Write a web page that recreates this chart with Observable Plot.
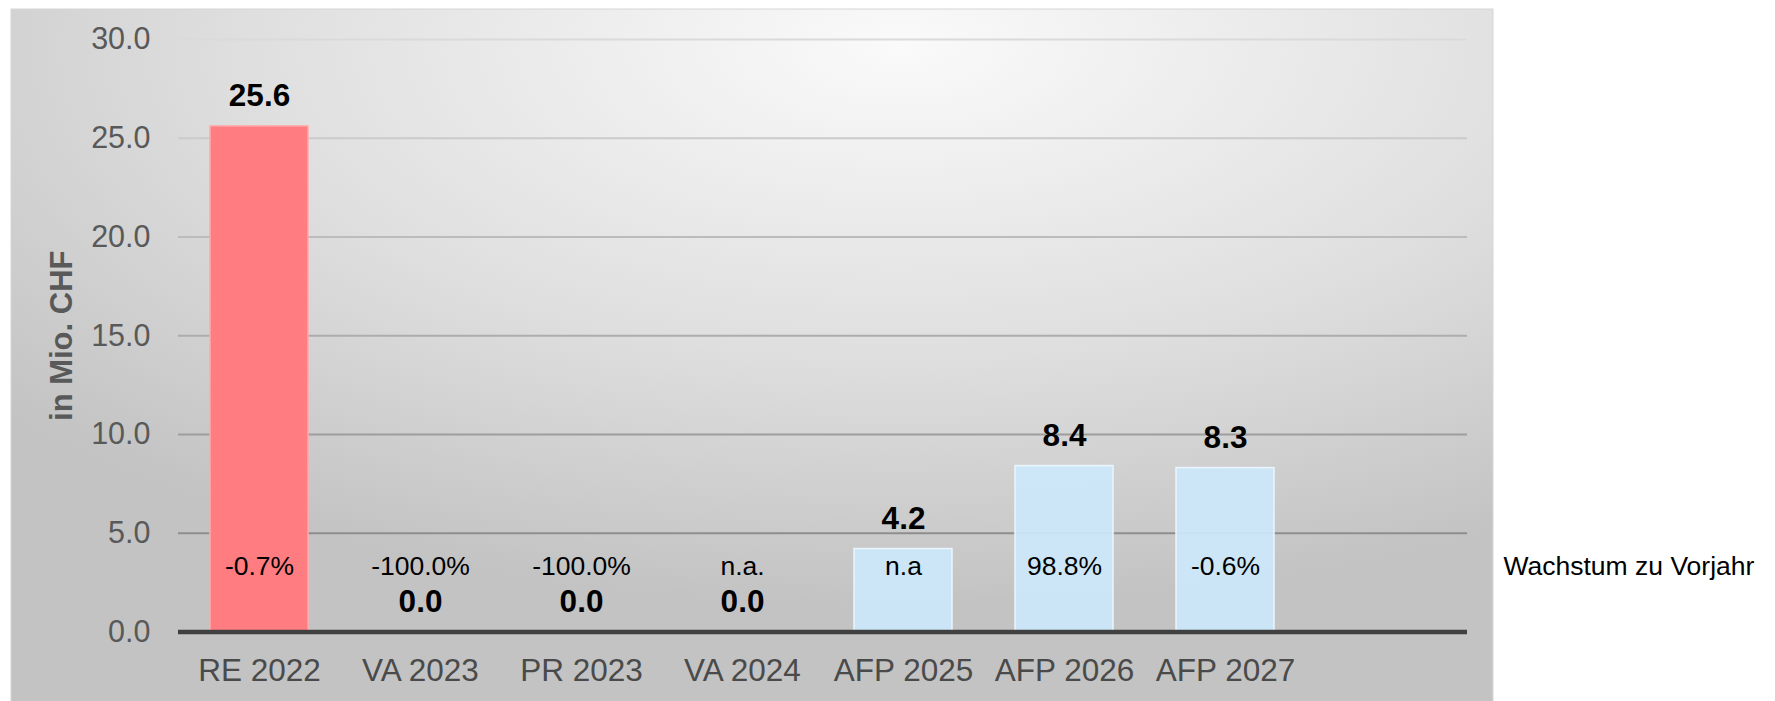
<!DOCTYPE html>
<html><head><meta charset="utf-8">
<script src="https://cdn.jsdelivr.net/npm/d3@7"></script>
<script src="https://cdn.jsdelivr.net/npm/@observablehq/plot@0.6"></script>
<style>html,body{margin:0;padding:0;background:#fff;} svg{display:block}</style>
</head><body><div id="chart"></div>
<script>
const categories = ["RE 2022", "VA 2023", "PR 2023", "VA 2024", "AFP 2025", "AFP 2026", "AFP 2027"];
const values = [25.6, 0.0, 0.0, 0.0, 4.2, 8.4, 8.3];
const growthLabels = ["-0.7%", "-100.0%", "-100.0%", "n.a.", "n.a", "98.8%", "-0.6%"];
const yTicks = [0, 5, 10, 15, 20, 25, 30];
const yLabel = "in Mio. CHF";
const seriesLabel = "Wachstum zu Vorjahr";

const data = categories.map((c, i) => ({cat: c, value: values[i], growth: growthLabels[i]}));
const FONT = "'Liberation Sans', Arial, Helvetica, sans-serif";
const PINK = "#ff7c80", BLUE = "#cce8fb";
const GROWTH_Y = 2.9;
const W = 1775, H = 701;

function background() {
  const g = d3.create("svg:g");
  const defs = g.append("defs");
  const rg = defs.append("radialGradient").attr("id", "bgGrad")
    .attr("cx", 0.6).attr("cy", 0.05).attr("r", 0.8);
  rg.append("stop").attr("offset", 0).attr("stop-color", "#fafafa");
  rg.append("stop").attr("offset", 0.55).attr("stop-color", "#dfdfdf");
  rg.append("stop").attr("offset", 1).attr("stop-color", "#c3c3c3");
  const lg = defs.append("linearGradient").attr("id", "gridGrad")
    .attr("gradientUnits", "userSpaceOnUse")
    .attr("x1", 0).attr("x2", 0).attr("y1", 39).attr("y2", 560);
  lg.append("stop").attr("offset", 0).attr("stop-color", "#dadada");
  lg.append("stop").attr("offset", 1).attr("stop-color", "#8a8a8a");
  g.append("rect").attr("x", 11).attr("y", 9).attr("width", 1482).attr("height", 700)
    .attr("fill", "url(#bgGrad)").attr("stroke", "#d6d6d6").attr("stroke-width", 1);
  return g.node();
}

const chart = Plot.plot({
  width: W, height: H,
  marginLeft: 178, marginRight: 308, marginTop: 39, marginBottom: 69.5,
  style: {fontFamily: FONT, background: "transparent", overflow: "visible"},
  x: {domain: [...categories, ""], paddingInner: 0.39, paddingOuter: 0.195, axis: null},
  y: {domain: [0, 30], axis: null},
  marks: [
    background,
    Plot.ruleY(yTicks.filter(t => t > 0), {stroke: "url(#gridGrad)", strokeWidth: 2}),
    Plot.barY(data, {filter: d => d.cat === categories[0], x: "cat", y: "value",
      fill: PINK, stroke: "#ffaaad", strokeWidth: 1.5}),
    Plot.barY(data, {filter: d => d.cat !== categories[0], x: "cat", y: "value",
      fill: BLUE, fillOpacity: 0.92, stroke: "#eaf5fd", strokeWidth: 1.5}),
    Plot.ruleY([0], {stroke: "#404040", strokeWidth: 4.5}),
    Plot.axisY(yTicks, {tickSize: 0, tickPadding: 28, tickFormat: d => d.toFixed(1),
      fontSize: 30.5, fill: "#595959", label: null}),
    Plot.axisX(categories, {tickSize: 0, tickPadding: 27, fontSize: 31.5, fill: "#4a4a4a", label: null}),
    Plot.text([yLabel], {text: d => d, frameAnchor: "left", textAnchor: "middle", rotate: -90, dx: -116,
      fontSize: 31, fontWeight: "bold", fill: "#595959"}),
    Plot.text(data, {x: "cat", y: "value", text: d => d.value.toFixed(1), dy: -20,
      lineAnchor: "bottom", fontSize: 31.5, fontWeight: "bold", fill: "#000"}),
    Plot.text(data, {x: "cat", y: GROWTH_Y, text: "growth", lineAnchor: "bottom",
      fontSize: 26.5, fill: "#000"}),
    Plot.text([seriesLabel], {text: d => d, y: GROWTH_Y, frameAnchor: "right", dx: 36,
      textAnchor: "start", lineAnchor: "bottom", fontSize: 26.5, fill: "#000"})
  ]
});
document.getElementById("chart").appendChild(chart);
</script>
</body></html>
